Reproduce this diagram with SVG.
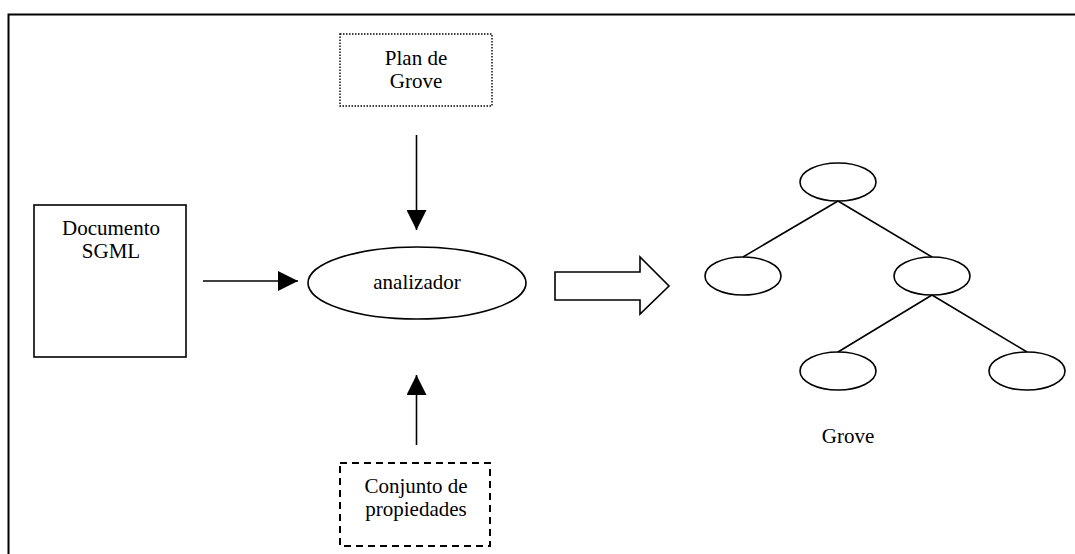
<svg xmlns="http://www.w3.org/2000/svg" width="1075" height="554" viewBox="0 0 1075 554">
  <style>
    .lbl { font-family: "Liberation Serif", "Times New Roman", serif; font-size: 21px; fill: #000; text-anchor: middle; }
    .shape { fill: #fff; stroke: #000; stroke-width: 1.6; }
    .edge { fill: none; stroke: #000; stroke-width: 1.6; }
  </style>
  <defs>
    <marker id="head" viewBox="0 0 20 20" refX="20" refY="10" markerWidth="20" markerHeight="20" markerUnits="userSpaceOnUse" orient="auto">
      <path d="M0,0 L20,10 L0,20 Z" fill="#000"/>
    </marker>
  </defs>

  <rect width="1075" height="554" fill="#fff"/>

  <!-- outer frame: top and left border -->
  <path d="M8.5,554 V14.5 H1075" fill="none" stroke="#000" stroke-width="2"/>

  <g id="plan-de-grove">
    <rect x="340" y="34" width="152" height="72" fill="#fff" stroke="#000" stroke-width="1.4" stroke-dasharray="1.5,1.5"/>
    <text class="lbl" x="416" y="65">Plan de</text>
    <text class="lbl" x="416" y="88">Grove</text>
  </g>

  <g id="documento-sgml">
    <rect class="shape" x="34" y="205" width="152" height="152"/>
    <text class="lbl" x="111" y="235">Documento</text>
    <text class="lbl" x="111" y="258">SGML</text>
  </g>

  <g id="analizador">
    <ellipse class="shape" cx="417" cy="283" rx="109" ry="36"/>
    <text class="lbl" x="417" y="289">analizador</text>
  </g>

  <g id="conjunto-de-propiedades">
    <rect x="340" y="463" width="150" height="83" fill="#fff" stroke="#000" stroke-width="2" stroke-dasharray="7,5"/>
    <text class="lbl" x="416" y="493">Conjunto de</text>
    <text class="lbl" x="416" y="516">propiedades</text>
  </g>

  <g id="transform-arrow">
    <path class="shape" d="M555,272 H640 V257 L669,286 L640,314 V300 H555 Z"/>
  </g>

  <g id="grove-tree">
    <g id="tree-root"><ellipse class="shape" cx="838" cy="182" rx="38" ry="19"/></g>
    <g id="tree-left"><ellipse class="shape" cx="743" cy="276" rx="38" ry="19"/></g>
    <g id="tree-right"><ellipse class="shape" cx="932" cy="276" rx="38" ry="19"/></g>
    <g id="tree-right-left"><ellipse class="shape" cx="838" cy="371" rx="38" ry="19"/></g>
    <g id="tree-right-right"><ellipse class="shape" cx="1027" cy="371" rx="38" ry="19"/></g>
    <text class="lbl" x="848" y="443" font-size="16">Grove</text>
  </g>

  <g id="connectors">
    <line class="edge" x1="416.5" y1="135" x2="416.5" y2="230" marker-end="url(#head)"/>
    <line class="edge" x1="203" y1="281" x2="298" y2="281" marker-end="url(#head)"/>
    <line class="edge" x1="416.5" y1="445" x2="416.5" y2="375" marker-end="url(#head)"/>
    <line class="edge" x1="838" y1="201" x2="743" y2="257"/>
    <line class="edge" x1="838" y1="201" x2="932" y2="257"/>
    <line class="edge" x1="932" y1="295" x2="838" y2="352"/>
    <line class="edge" x1="932" y1="295" x2="1027" y2="352"/>
  </g>
</svg>
